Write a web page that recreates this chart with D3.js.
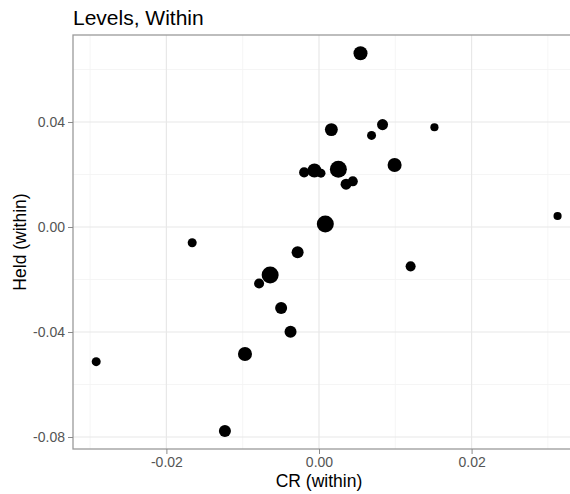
<!DOCTYPE html>
<html>
<head>
<meta charset="utf-8">
<script src="https://cdn.jsdelivr.net/npm/d3@7"></script>
<style>
  body { margin: 0; background: #fff; }
  svg { display: block; font-family: "Liberation Sans", Arial, sans-serif; }
</style>
</head>
<body>
<div id="wrapper"></div>
<script>
// CR (within), Held (within), point weight
const crValues = [
  0.00544, 0.00162, 0.00833, 0.00689, 0.01513, 0.00991, 0.00254,
  -0.00195, -0.00060, 0.00026, 0.00355, 0.00443, 0.00083, 0.03127,
  -0.01662, -0.00280, -0.00640, -0.00785, -0.00496, -0.00373,
  -0.00970, -0.02920, -0.01233, 0.01201
];
const heldValues = [
  0.0662, 0.0371, 0.0390, 0.0349, 0.0380, 0.0236, 0.0220,
  0.0208, 0.0215, 0.0205, 0.0163, 0.0174, 0.0011, 0.0042,
  -0.0060, -0.0096, -0.0183, -0.0215, -0.0309, -0.0399,
  -0.0484, -0.0513, -0.0777, -0.0150
];
const weights = [
  6.8, 5.8, 4.2, 2.8, 2.3, 6.8, 10,
  3.5, 6.8, 2.8, 4.2, 3.5, 10, 2.3,
  2.8, 5.0, 10, 3.5, 5.0, 5.0,
  6.8, 2.8, 5.0, 3.5
];
const xTicks = [-0.02, 0.00, 0.02];
const yTicks = [-0.08, -0.04, 0.00, 0.04];
const xMinor = [-0.03, -0.01, 0.01, 0.03];
const yMinor = [-0.06, -0.02, 0.02, 0.06];

const dataset = crValues.map((cr, i) => ({ cr, held: heldValues[i], w: weights[i] }));

const dimensions = {
  width: 570,
  height: 494,
  margin: { top: 35, right: -2, bottom: 45, left: 73 },
};
dimensions.boundedWidth = dimensions.width - dimensions.margin.left - dimensions.margin.right;
dimensions.boundedHeight = dimensions.height - dimensions.margin.top - dimensions.margin.bottom;

const xAccessor = (d) => d.cr;
const yAccessor = (d) => d.held;
// plain hyphen for negatives, like the original
const tickFormat = (d) => d3.format(".2f")(d).replace("\u2212", "-");

const svg = d3.select("#wrapper")
  .append("svg")
  .attr("width", dimensions.width)
  .attr("height", dimensions.height);

const bounds = svg.append("g")
  .attr("transform", `translate(${dimensions.margin.left},${dimensions.margin.top})`);

const xScale = d3.scaleLinear()
  .domain([-0.03224, 0.03316])
  .range([0, dimensions.boundedWidth]);

const yScale = d3.scaleLinear()
  .domain([-0.08457, 0.07314])
  .range([dimensions.boundedHeight, 0]);

const rScale = d3.scaleSqrt().domain([0, 10]).range([0, 8.5]);

// grid
bounds.selectAll(".minor-x").data(xMinor).join("line")
  .attr("x1", xScale).attr("x2", xScale)
  .attr("y1", 0).attr("y2", dimensions.boundedHeight)
  .attr("stroke", "#f2f2f2").attr("stroke-width", 0.8);
bounds.selectAll(".minor-y").data(yMinor).join("line")
  .attr("y1", yScale).attr("y2", yScale)
  .attr("x1", 0).attr("x2", dimensions.boundedWidth)
  .attr("stroke", "#f2f2f2").attr("stroke-width", 0.8);
bounds.selectAll(".major-x").data(xTicks).join("line")
  .attr("x1", xScale).attr("x2", xScale)
  .attr("y1", 0).attr("y2", dimensions.boundedHeight)
  .attr("stroke", "#e8e8e8").attr("stroke-width", 1.2);
bounds.selectAll(".major-y").data(yTicks).join("line")
  .attr("y1", yScale).attr("y2", yScale)
  .attr("x1", 0).attr("x2", dimensions.boundedWidth)
  .attr("stroke", "#e8e8e8").attr("stroke-width", 1.2);

// points
bounds.selectAll("circle").data(dataset).join("circle")
  .attr("cx", (d) => xScale(xAccessor(d)))
  .attr("cy", (d) => yScale(yAccessor(d)))
  .attr("r", (d) => rScale(d.w))
  .attr("fill", "black");

// panel border
bounds.append("rect")
  .attr("x", 0).attr("y", 0)
  .attr("width", dimensions.boundedWidth)
  .attr("height", dimensions.boundedHeight)
  .attr("fill", "none")
  .attr("stroke", "#9a9a9a")
  .attr("stroke-width", 1.3);

// axes
const xAxis = bounds.append("g")
  .attr("transform", `translate(0,${dimensions.boundedHeight})`)
  .call(d3.axisBottom(xScale).tickValues(xTicks).tickFormat(tickFormat).tickSize(5).tickPadding(3));
const yAxis = bounds.append("g")
  .call(d3.axisLeft(yScale).tickValues(yTicks).tickFormat(tickFormat).tickSize(5).tickPadding(3));

[xAxis, yAxis].forEach((ax) => {
  ax.select(".domain").remove();
  ax.selectAll("line").attr("stroke", "#8a8a8a");
  ax.selectAll("text")
    .attr("fill", "#555")
    .style("font-size", "14px")
    .style("font-family", "Liberation Sans, Arial, sans-serif");
});

bounds.append("text")
  .attr("x", xScale(0))
  .attr("y", dimensions.boundedHeight + 38)
  .attr("fill", "black")
  .style("font-size", "17.5px")
  .style("text-anchor", "middle")
  .text("CR (within)");

bounds.append("text")
  .attr("transform", `translate(${-47},${dimensions.boundedHeight / 2}) rotate(-90)`)
  .attr("fill", "black")
  .style("font-size", "17.5px")
  .style("text-anchor", "middle")
  .text("Held (within)");

svg.append("text")
  .attr("x", 73)
  .attr("y", 25)
  .attr("fill", "black")
  .style("font-size", "21px")
  .text("Levels, Within");
</script>
</body>
</html>
